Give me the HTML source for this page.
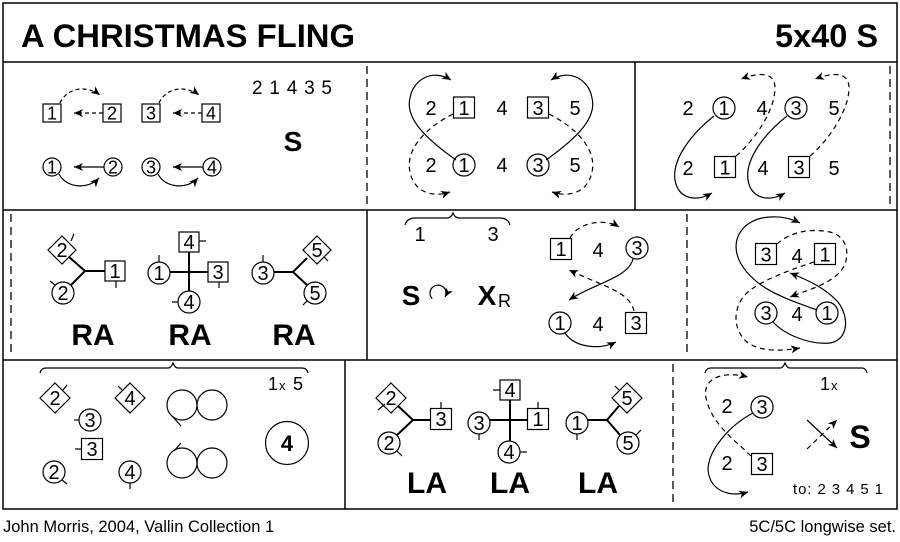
<!DOCTYPE html>
<html><head><meta charset="utf-8"><style>
html,body{margin:0;padding:0;background:#fff;}
svg{display:block;}
text{font-family:"Liberation Sans",Arial,sans-serif;fill:#000;}
.n{font-size:20px;text-anchor:middle;}
.s{font-size:18px;text-anchor:middle;}
.b{font-weight:bold;text-anchor:middle;}
</style></head><body>
<svg width="900" height="542" viewBox="0 0 900 542" xmlns="http://www.w3.org/2000/svg">
<defs>
<marker id="a" markerWidth="12" markerHeight="12" refX="9" refY="5" orient="auto" markerUnits="userSpaceOnUse"><path d="M0,1 L9,5 L0,9 L2.5,5 z" fill="#000" stroke="none"/></marker>
</defs>

<!-- frame -->
<g fill="none" stroke="#000" stroke-width="1.5">
<rect x="3" y="3" width="894" height="506"/>
<line x1="3" y1="62" x2="897" y2="62"/>
<line x1="3" y1="210" x2="897" y2="210"/>
<line x1="3" y1="360" x2="897" y2="360"/>
<line x1="635" y1="62" x2="635" y2="210"/>
<line x1="367" y1="210" x2="367" y2="360"/>
<line x1="345" y1="360" x2="345" y2="509"/>
</g>
<g fill="none" stroke="#000" stroke-width="1.3" stroke-dasharray="8,5">
<line x1="367" y1="66" x2="367" y2="208"/>
<line x1="890" y1="66" x2="890" y2="208"/>
<line x1="11" y1="214" x2="11" y2="357"/>
<line x1="687" y1="214" x2="687" y2="357"/>
<line x1="673" y1="364" x2="673" y2="507"/>
</g>

<!-- title -->
<text x="21" y="47" font-size="32" font-weight="bold" textLength="334" lengthAdjust="spacingAndGlyphs">A CHRISTMAS FLING</text>
<text x="775" y="47" font-size="32" font-weight="bold" textLength="103" lengthAdjust="spacingAndGlyphs">5x40 S</text>

<!-- ROW 1 PANEL 1 -->
<g fill="none" stroke="#000" stroke-width="1.2">
<rect x="43" y="104" width="18" height="18"/>
<rect x="103" y="104" width="18" height="18"/>
<rect x="142" y="104" width="18" height="18"/>
<rect x="202" y="104" width="18" height="18"/>
<circle cx="52" cy="167" r="9"/>
<circle cx="113" cy="167" r="9"/>
<circle cx="151" cy="167" r="9"/>
<circle cx="212" cy="167" r="9"/>
<g stroke-dasharray="4,3">
<path d="M103,113 H74" marker-end="url(#a)"/>
<path d="M202,113 H173" marker-end="url(#a)"/>
<path d="M60,103 C68,86 88,86 100,95" marker-end="url(#a)"/>
<path d="M159,103 C167,86 187,86 199,95" marker-end="url(#a)"/>
</g>
<path d="M104,167 H74" marker-end="url(#a)"/>
<path d="M203,167 H173" marker-end="url(#a)"/>
<path d="M59,174 C66,188 88,190 99,178" marker-end="url(#a)"/>
<path d="M158,174 C165,188 187,190 198,178" marker-end="url(#a)"/>
</g>
<text class="s" x="52" y="119.5">1</text>
<text class="s" x="112" y="119.5">2</text>
<text class="s" x="151" y="119.5">3</text>
<text class="s" x="211" y="119.5">4</text>
<text class="s" x="52" y="173.5">1</text>
<text class="s" x="113" y="173.5">2</text>
<text class="s" x="151" y="173.5">3</text>
<text class="s" x="212" y="173.5">4</text>
<text x="252" y="94" font-size="19" textLength="80" lengthAdjust="spacing">2 1 4 3 5</text>
<text class="b" x="293" y="151" font-size="28">S</text>

<!-- ROW 1 PANEL 2 -->
<g fill="none" stroke="#000" stroke-width="1.2">
<rect x="453.5" y="97" width="21" height="21"/>
<rect x="527.5" y="97" width="21" height="21"/>
<circle cx="464" cy="165" r="11"/>
<circle cx="538" cy="165" r="11"/>
<path d="M456,160 C425,138 405,118 410,98 C413,80 432,68 451,80" marker-end="url(#a)"/>
<path d="M546,160 C577,138 597,118 592,98 C589,80 570,68 551,80" marker-end="url(#a)"/>
<g stroke-dasharray="5,4">
<path d="M453,114 C425,128 405,150 410,172 C414,192 432,198 450,192" marker-end="url(#a)"/>
<path d="M549,114 C577,128 597,150 592,172 C588,192 570,198 552,192" marker-end="url(#a)"/>
</g>
</g>
<text class="n" x="431" y="115">2</text>
<text class="n" x="464" y="115">1</text>
<text class="n" x="502" y="115">4</text>
<text class="n" x="538" y="115">3</text>
<text class="n" x="575" y="115">5</text>
<text class="n" x="431" y="172">2</text>
<text class="n" x="464" y="172">1</text>
<text class="n" x="502" y="172">4</text>
<text class="n" x="538" y="172">3</text>
<text class="n" x="575" y="172">5</text>

<!-- ROW 1 PANEL 3 -->
<g fill="none" stroke="#000" stroke-width="1.2">
<circle cx="724" cy="108" r="11"/>
<circle cx="796" cy="108" r="11"/>
<rect x="714.5" y="156.5" width="21" height="21"/>
<rect x="788.5" y="156.5" width="21" height="21"/>
<path d="M714,116 C690,135 672,160 675,180 C678,198 695,203 712,193" marker-end="url(#a)"/>
<path d="M787,116 C763,135 745,160 748,180 C751,198 768,203 785,193" marker-end="url(#a)"/>
<g stroke-dasharray="5,4">
<path d="M736,156 C755,140 775,110 775,88 C775,72 760,72 741,79" marker-end="url(#a)"/>
<path d="M810,156 C829,140 849,110 849,88 C849,72 834,72 815,79" marker-end="url(#a)"/>
</g>
</g>
<text class="n" x="688" y="115">2</text>
<text class="n" x="724" y="115">1</text>
<text class="n" x="762" y="115">4</text>
<text class="n" x="796" y="115">3</text>
<text class="n" x="834" y="115">5</text>
<text class="n" x="688" y="175">2</text>
<text class="n" x="725" y="174.5">1</text>
<text class="n" x="763" y="175">4</text>
<text class="n" x="799" y="174.5">3</text>
<text class="n" x="834" y="175">5</text>

<!-- ROW 2 PANEL 1 -->
<g fill="none" stroke="#000" stroke-width="1.2">
<polygon points="62,236 76,250 62,264 48,250"/>
<rect x="105" y="261" width="20" height="20"/>
<circle cx="63" cy="293" r="11"/>
<line x1="71" y1="241" x2="74" y2="234"/>
<line x1="116" y1="281" x2="116" y2="288"/>
<line x1="55" y1="285" x2="50" y2="281"/>
<rect x="179" y="232" width="20" height="20"/>
<circle cx="159" cy="273" r="11"/>
<rect x="208" y="262" width="20" height="20"/>
<circle cx="189" cy="302" r="11"/>
<line x1="199" y1="241" x2="206" y2="241"/>
<line x1="159" y1="262" x2="159" y2="255"/>
<line x1="219" y1="282" x2="219" y2="288"/>
<line x1="178" y1="302" x2="172" y2="302"/>
<circle cx="263" cy="273" r="11"/>
<polygon points="317,236 331,250 317,264 303,250"/>
<circle cx="315" cy="293" r="11"/>
<line x1="263" y1="262" x2="263" y2="255"/>
<line x1="324" y1="257" x2="328" y2="261"/>
<line x1="307" y1="301" x2="303" y2="305"/>
</g>
<g fill="none" stroke="#000" stroke-width="2">
<path d="M69,257 L85,271 L105,271 M85,271 L71,285"/>
<path d="M189,252 V291 M170,272 H208"/>
<path d="M274,272 H293 L307,258 M293,272 L307,285"/>
</g>
<text class="n" x="62" y="257">2</text>
<text class="n" x="115" y="278">1</text>
<text class="n" x="63" y="300">2</text>
<text class="n" x="189" y="249">4</text>
<text class="n" x="159" y="280">1</text>
<text class="n" x="218" y="279">3</text>
<text class="n" x="189" y="309">4</text>
<text class="n" x="263" y="280">3</text>
<text class="n" x="317" y="257">5</text>
<text class="n" x="315" y="300">5</text>
<text class="b" x="93" y="345" font-size="30">RA</text>
<text class="b" x="190" y="345" font-size="30">RA</text>
<text class="b" x="294" y="345" font-size="30">RA</text>

<!-- ROW 2 PANEL 2 -->
<g fill="none" stroke="#000" stroke-width="1.2">
<path d="M405,225 Q407,218 415,218 L447,218 Q451,218 453,213 Q455,218 459,218 L500,218 Q508,218 510,225"/>
<path d="M432.3,298.7 A8,8 0 1,1 445,297" marker-end="url(#a)"/>
<rect x="550.5" y="238.5" width="21" height="21"/>
<circle cx="637" cy="248" r="11"/>
<circle cx="560" cy="323" r="11"/>
<rect x="625.5" y="312.5" width="21" height="21"/>
<path d="M633,259 C628,278 595,283 569,300" marker-end="url(#a)"/>
<path d="M565,333 C575,348 600,350 616,342" marker-end="url(#a)"/>
<g stroke-dasharray="5,4">
<path d="M570,238 C578,222 605,218 619,227" marker-end="url(#a)"/>
<path d="M634,311 C630,292 605,287 569,270" marker-end="url(#a)"/>
</g>
</g>
<text class="n" x="420" y="241">1</text>
<text class="n" x="493" y="241">3</text>
<text class="b" x="411" y="305" font-size="28">S</text>
<text class="b" x="487" y="305" font-size="28">X</text>
<text x="498" y="307" font-size="18">R</text>
<text class="n" x="561" y="256">1</text>
<text class="n" x="598" y="257">4</text>
<text class="n" x="637" y="255">3</text>
<text class="n" x="560" y="330">1</text>
<text class="n" x="598" y="331">4</text>
<text class="n" x="636" y="330">3</text>

<!-- ROW 2 PANEL 3 -->
<g fill="none" stroke="#000" stroke-width="1.2">
<rect x="755.5" y="243.5" width="21" height="21"/>
<rect x="814.5" y="243.5" width="21" height="21"/>
<circle cx="766" cy="313" r="11"/>
<circle cx="827" cy="313" r="11"/>
<path d="M817,310 C790,300 755,290 740,262 C728,238 745,218 770,217 C782,216 792,219 800,223" marker-end="url(#a)"/>
<path d="M773,322 C785,335 810,345 830,343 C848,340 850,318 838,302 C825,288 808,280 790,273" marker-end="url(#a)"/>
<g stroke-dasharray="5,4">
<path d="M814,262 C790,270 762,280 748,292 C732,306 732,330 748,343 C762,352 782,351 800,348" marker-end="url(#a)"/>
<path d="M777,244 C790,232 810,228 830,232 C848,236 852,258 840,272 C828,285 805,291 790,297" marker-end="url(#a)"/>
</g>
</g>
<text class="n" x="766" y="261.5">3</text>
<text class="n" x="797" y="263">4</text>
<text class="n" x="825" y="261.5">1</text>
<text class="n" x="766" y="320">3</text>
<text class="n" x="797" y="321">4</text>
<text class="n" x="827" y="320">1</text>

<!-- ROW 3 PANEL 1 -->
<g fill="none" stroke="#000" stroke-width="1.2">
<path d="M40,373 Q41,368 46,368 L168,368 Q171,368 173,363 Q175,368 178,368 L302,368 Q307,368 308,373"/>
<polygon points="55,383 70,398 55,413 40,398"/>
<polygon points="130,383 145,398 130,413 115,398"/>
<circle cx="90" cy="420" r="11"/>
<rect x="81.5" y="438.5" width="21" height="21"/>
<circle cx="54" cy="472" r="11"/>
<circle cx="130" cy="472" r="11"/>
<line x1="63" y1="390" x2="67" y2="385"/>
<line x1="122" y1="390" x2="118" y2="386"/>
<line x1="79" y1="420" x2="74" y2="420"/>
<line x1="81" y1="449" x2="75" y2="449"/>
<line x1="62" y1="480" x2="67" y2="484"/>
<line x1="130" y1="483" x2="130" y2="489"/>
<circle cx="182" cy="405" r="15"/>
<circle cx="212" cy="405" r="15"/>
<line x1="172" y1="416" x2="181" y2="426"/>
<circle cx="182" cy="463" r="15"/>
<circle cx="212" cy="463" r="15"/>
<line x1="174" y1="451" x2="181" y2="443"/>
<circle cx="287" cy="443" r="21.5"/>
</g>
<text x="268" y="390" font-size="18">1</text>
<text x="279" y="390" font-size="13">x</text>
<text x="293" y="390" font-size="18">5</text>
<text class="n" x="55" y="405">2</text>
<text class="n" x="130" y="405">4</text>
<text class="n" x="90" y="427">3</text>
<text class="n" x="92" y="456">3</text>
<text class="n" x="54" y="479">2</text>
<text class="n" x="130" y="479">4</text>
<text class="b" x="287" y="451" font-size="22">4</text>

<!-- ROW 3 PANEL 2 -->
<g fill="none" stroke="#000" stroke-width="1.2">
<polygon points="391,383 406,398 391,413 376,398"/>
<rect x="430.5" y="408.5" width="21" height="21"/>
<circle cx="389" cy="443" r="11"/>
<line x1="378" y1="410" x2="385" y2="404"/>
<line x1="441" y1="408" x2="441" y2="402"/>
<line x1="397" y1="451" x2="402" y2="456"/>
<rect x="500" y="380" width="20" height="20"/>
<circle cx="479" cy="423" r="11"/>
<rect x="527.5" y="408.5" width="21" height="21"/>
<circle cx="509" cy="452" r="11"/>
<line x1="500" y1="390" x2="493" y2="390"/>
<line x1="479" y1="434" x2="479" y2="440"/>
<line x1="538" y1="408" x2="538" y2="402"/>
<line x1="520" y1="452" x2="527" y2="452"/>
<circle cx="577" cy="423" r="11"/>
<polygon points="627,383 642,398 627,413 612,398"/>
<circle cx="628" cy="443" r="11"/>
<line x1="577" y1="434" x2="577" y2="440"/>
<line x1="619" y1="390" x2="615" y2="386"/>
<line x1="636" y1="435" x2="641" y2="430"/>
</g>
<g fill="none" stroke="#000" stroke-width="2">
<path d="M398,406 L413,420 L430,420 M413,420 L397,435"/>
<path d="M510,400 V441 M490,420 H528"/>
<path d="M588,420 H607 L619,406 M607,420 L620,435"/>
</g>
<text class="n" x="391" y="405">2</text>
<text class="n" x="441" y="426">3</text>
<text class="n" x="389" y="450">2</text>
<text class="n" x="510" y="397">4</text>
<text class="n" x="479" y="430">3</text>
<text class="n" x="538" y="426">1</text>
<text class="n" x="509" y="459">4</text>
<text class="n" x="577" y="430">1</text>
<text class="n" x="627" y="405">5</text>
<text class="n" x="628" y="450">5</text>
<text class="b" x="427" y="493" font-size="30">LA</text>
<text class="b" x="510" y="493" font-size="30">LA</text>
<text class="b" x="598" y="493" font-size="30">LA</text>

<!-- ROW 3 PANEL 3 -->
<g fill="none" stroke="#000" stroke-width="1.2">
<path d="M705,373 Q706,368 711,368 L780,368 Q783,368 785,363 Q787,368 790,368 L862,368 Q866,368 867,373"/>
<circle cx="762" cy="407" r="11"/>
<rect x="751.5" y="453.5" width="21" height="21"/>
<path d="M753,413 C730,425 708,450 708,470 C710,490 728,498 748,492" marker-end="url(#a)"/>
<path d="M807,420 L837,448" marker-end="url(#a)"/>
<g stroke-dasharray="5,4">
<path d="M751,456 C735,440 712,425 706,398 C702,380 720,370 748,377" marker-end="url(#a)"/>
<path d="M807,449 L837,420" marker-end="url(#a)"/>
</g>
</g>
<text x="820" y="390" font-size="18">1</text>
<text x="831" y="390" font-size="13">x</text>
<text class="n" x="727" y="413">2</text>
<text class="n" x="762" y="414">3</text>
<text class="n" x="727" y="470">2</text>
<text class="n" x="762" y="471">3</text>
<text class="b" x="860" y="448" font-size="32">S</text>
<text x="793" y="494" font-size="15" textLength="90" lengthAdjust="spacing">to:  2 3 4 5 1</text>

<!-- footer -->
<text x="3" y="532" font-size="16.5">John Morris, 2004, Vallin Collection 1</text>
<text x="896" y="532" font-size="16.5" text-anchor="end">5C/5C longwise set.</text>
</svg>
</body></html>
